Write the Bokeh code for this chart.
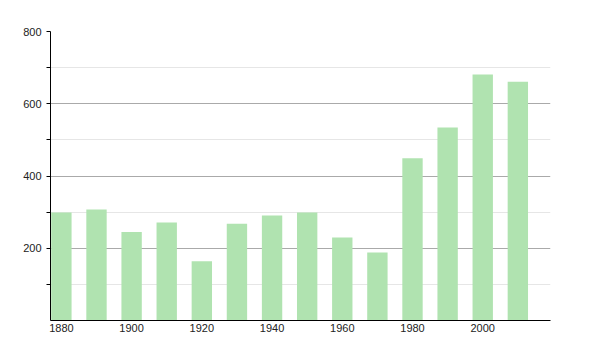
from bokeh.plotting import figure
from bokeh.models import FixedTicker, Range1d
from bokeh.embed import file_html
from bokeh.resources import INLINE

years = [1880, 1890, 1900, 1910, 1920, 1930, 1940, 1950, 1960, 1970, 1980, 1990, 2000, 2010]
population = [299, 307, 245, 271, 164, 268, 291, 299, 230, 188, 449, 534, 681, 661]
x_ticks = [1880, 1900, 1920, 1940, 1960, 1980, 2000]
y_ticks = [200, 400, 600, 800]
y_minor = [100, 300, 500, 700]

p = figure(width=600, height=350, output_backend="svg", toolbar_location=None,
           x_range=Range1d(1876.9, 2019.3), y_range=Range1d(0, 800),
           min_border_left=50, min_border_right=50, min_border_top=31, min_border_bottom=30)
p.outline_line_color = None
p.background_fill_color = "white"
p.border_fill_color = "white"

p.vbar(x=years, top=population, width=5.8, bottom=0, fill_color="#b0e3b0", line_color=None)

p.xgrid.grid_line_color = None
p.ygrid.ticker = FixedTicker(ticks=y_ticks, minor_ticks=y_minor)
p.ygrid.grid_line_color = "#aaaaaa"
p.ygrid.minor_grid_line_color = "#e6e6e6"

p.yaxis.ticker = FixedTicker(ticks=y_ticks, minor_ticks=y_minor)
p.yaxis.major_tick_in = 0
p.yaxis.major_tick_out = 4
p.yaxis.minor_tick_in = 0
p.yaxis.minor_tick_out = 4
p.yaxis.axis_line_color = "black"
p.yaxis.major_tick_line_color = "black"
p.yaxis.minor_tick_line_color = "black"
p.yaxis.major_label_standoff = 5

p.xaxis.ticker = FixedTicker(ticks=x_ticks)
p.xaxis.major_tick_in = 0
p.xaxis.major_tick_out = 0
p.xaxis.minor_tick_out = 0
p.xaxis.minor_tick_in = 0
p.xaxis.axis_line_color = "black"
p.xaxis.major_label_standoff = 3

for ax in (p.xaxis, p.yaxis):
    ax.major_label_text_font = "Liberation Sans"
    ax.major_label_text_font_size = "11px"
    ax.major_label_text_color = "#222222"

open("out.html", "w").write(file_html(p, INLINE))
